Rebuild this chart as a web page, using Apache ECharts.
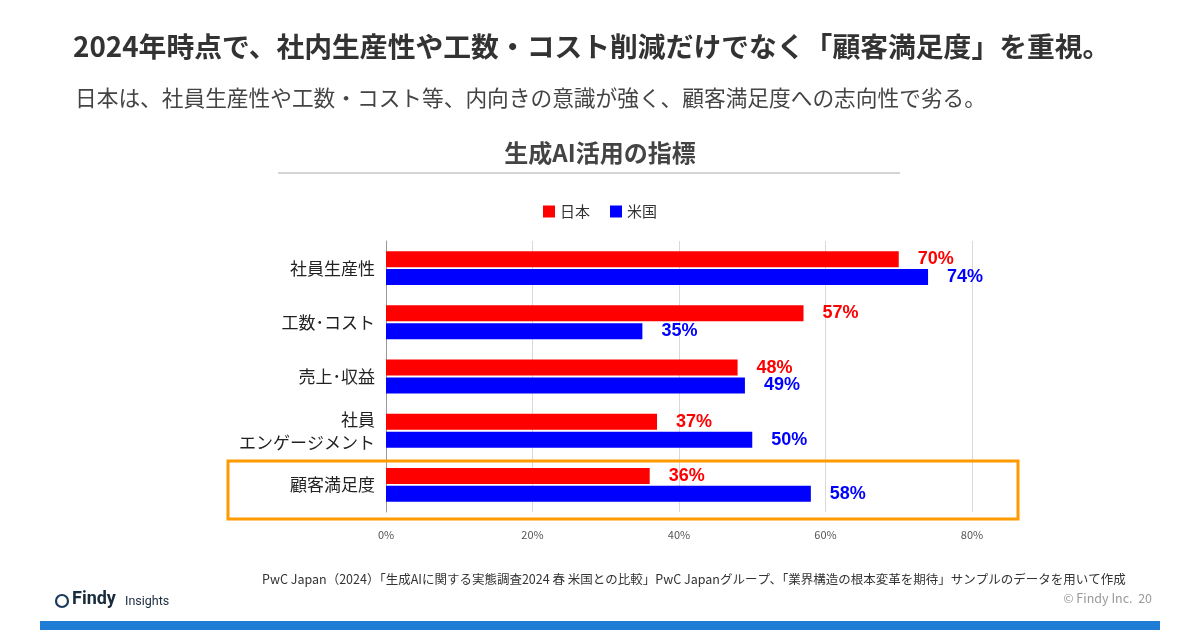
<!DOCTYPE html>
<html><head><meta charset="utf-8">
<script src="https://cdn.jsdelivr.net/npm/echarts@6/dist/echarts.min.js"></script>
<style>html,body{margin:0;padding:0;background:#fff}#c{width:1200px;height:630px}</style>
</head><body><div id="c"></div>
<script>
const categories = ['社員生産性', '工数･コスト', '売上･収益', '社員\nエンゲージメント', '顧客満足度'];
const japan = [70, 57, 48, 37, 36];
const usa = [74, 35, 49, 50, 58];
const seriesNames = ['日本', '米国'];
const xTicks = [0, 20, 40, 60, 80];

const FONT = '"Noto Sans CJK JP", "Noto Sans", sans-serif';
const chart = echarts.init(document.getElementById('c'));
chart.setOption({
  backgroundColor: '#fff',
  textStyle: { fontFamily: FONT },
  title: [
    { text: '2024年時点で、社内生産性や工数・コスト削減だけでなく「顧客満足度」を重視。', left: 68, top: 28,
      textStyle: { fontSize: 27.8, fontWeight: 'bold', color: '#333', fontFamily: FONT } },
    { text: '日本は、社員生産性や工数・コスト等、内向きの意識が強く、顧客満足度への志向性で劣る。', left: 70, top: 82,
      textStyle: { fontSize: 21.7, fontWeight: 'normal', color: '#444', fontFamily: FONT } },
    { text: '生成AI活用の指標', left: 'center', top: 136,
      textStyle: { fontSize: 24, fontWeight: 'bold', color: '#444', fontFamily: FONT } }
  ],
  legend: {
    data: seriesNames, top: 199, left: 'center', itemWidth: 12, itemHeight: 12, itemGap: 20,
    icon: 'rect', textStyle: { fontSize: 15, color: '#333', fontFamily: FONT }
  },
  grid: { left: 386, right: 228, top: 241, bottom: 118, containLabel: false },
  xAxis: {
    type: 'value', min: 0, max: 80, interval: 20,
    axisLabel: { formatter: v => xTicks.includes(v) ? v + '%' : '', fontSize: 11, color: '#555', margin: 17 },
    splitLine: { lineStyle: { color: '#d9d9d9' } },
    axisLine: { show: false }, axisTick: { show: false }
  },
  yAxis: {
    type: 'category', data: categories, inverse: true,
    axisLine: { show: true, lineStyle: { color: '#999' } }, axisTick: { show: false },
    axisLabel: { fontSize: 17, color: '#222', margin: 11, align: 'right', lineHeight: 23 }
  },
  series: [
    { name: seriesNames[0], type: 'bar', data: japan, barWidth: 16, barGap: '12%',
      itemStyle: { color: '#ff0000' },
      label: { show: true, position: 'right', distance: 19, formatter: '{c}%', color: '#ff0000', fontSize: 18, fontWeight: 'bold', fontFamily: 'Liberation Sans, Arial, sans-serif' } },
    { name: seriesNames[1], type: 'bar', data: usa, barWidth: 16,
      itemStyle: { color: '#0000ff' },
      label: { show: true, position: 'right', distance: 19, formatter: '{c}%', color: '#0000ff', fontSize: 18, fontWeight: 'bold', fontFamily: 'Liberation Sans, Arial, sans-serif' } }
  ],
  graphic: [
    { type: 'line', shape: { x1: 278, y1: 173, x2: 900, y2: 173 }, style: { stroke: '#aaa', lineWidth: 1 } },
    { type: 'rect', shape: { x: 228, y: 461, width: 790, height: 58 }, style: { fill: 'none', stroke: '#ff9a00', lineWidth: 3 }, z: 10 },
    { type: 'text', left: 262, top: 573, style: { text: 'PwC Japan（2024）「生成AIに関する実態調査2024 春 米国との比較」PwC Japanグループ、「業界構造の根本変革を期待」サンプルのデータを用いて作成', fontSize: 12.5, fill: '#333', fontFamily: FONT } },
    { type: 'text', right: 1200 - 1152, top: 592, style: { text: '© Findy Inc.  20', fontSize: 12.5, fill: '#999', fontFamily: FONT } },
    { type: 'circle', shape: { cx: 62, cy: 601, r: 6 }, style: { fill: 'none', stroke: '#1a3a5c', lineWidth: 2.2 } },
    { type: 'text', left: 72, top: 590, style: { text: 'Findy', fontSize: 18, fontWeight: 'bold', fill: '#1a2b3c', fontFamily: 'Roboto, sans-serif' } },
    { type: 'text', left: 125, top: 595, style: { text: 'Insights', fontSize: 12.5, fill: '#1a2b3c', fontFamily: 'Roboto, sans-serif' } },
    { type: 'rect', shape: { x: 40, y: 621, width: 1120, height: 9 }, style: { fill: '#1f7dd6' } }
  ]
});
</script></body></html>
